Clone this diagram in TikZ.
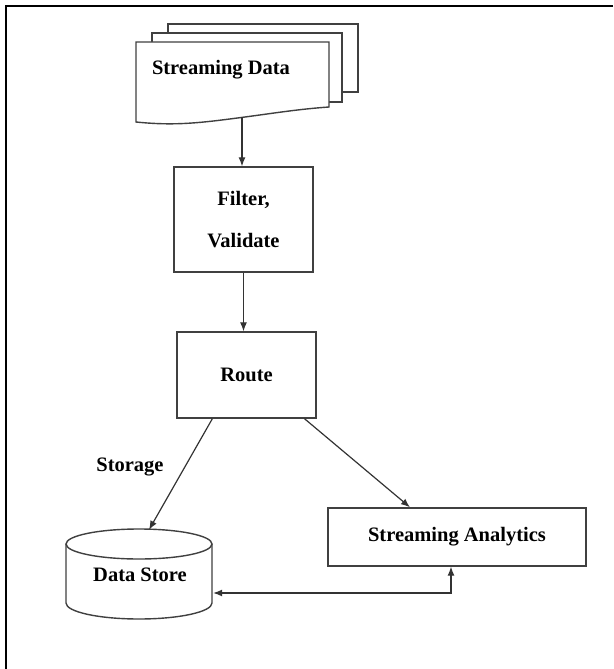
\documentclass[tikz,border=0pt]{standalone}
\usepackage{fontspec}
\setmainfont{Liberation Serif}
\usetikzlibrary{arrows.meta,positioning}

\begin{document}
\begin{tikzpicture}[x=1pt,y=-1pt]
    \tikzset{
        every node/.style={font=\fontsize{20.5}{42}\selectfont\bfseries},
        box/.style={draw=black!75, line width=1.4pt, fill=white, align=center},
        sheet/.style={draw=black!75, line width=1.4pt, fill=white},
        flow/.style={draw=black!80, line width=1.2pt, -{Latex[length=9pt,width=7pt]}}
    }
    \useasboundingbox (0,0) rectangle (613,669);
    \draw[line width=2.2pt] (613,6) -- (6,6) -- (6,669);

    % stacked documents
    \draw[sheet] (168,24) rectangle (358,92);
    \draw[sheet] (152,33) rectangle (342,102);
    \draw[sheet] (136,42) -- (329,42) -- (329,107)
        .. controls (300,109) and (275,113) .. (245,117)
        .. controls (200,123) and (175,126) .. (136,122) -- cycle;
    \node (data) at (221,70) {Streaming Data};
    \coordinate (dataend) at (242,117);

    \node[box, minimum width=139, minimum height=105] (filter) at (243.5,219.5) {Filter,\\Validate};
    \node[box, minimum width=139, minimum height=86] (route) at (246.5,375) {Route};
    \node[box, minimum width=258, minimum height=58] (ana) at (457,537) {Streaming Analytics};

    % data store cylinder
    \draw[sheet] (66,544) -- (66,603) arc[start angle=180, end angle=0, x radius=73, y radius=16] -- (212,544);
    \draw[sheet] (139,544) ellipse[x radius=73, y radius=15];
    \node[minimum width=146, minimum height=90] (store) at (140,575) {Data Store};
    \node (storage) at (130,467) {Storage};

    \draw[flow] (dataend) -- (dataend |- filter.north);
    \draw[flow] (filter.south) -- (filter.south |- route.north);
    \draw[flow] (route.232) -- ([xshift=9pt]store.north);
    \draw[flow] (route.-37) -- ([xshift=-47pt]ana.north);
    \draw[flow, {Latex[length=9pt,width=7pt]}-{Latex[length=9pt,width=7pt]}]
        ([yshift=-18pt]store.east) -| ([xshift=-6pt]ana.south);
\end{tikzpicture}
\end{document}
